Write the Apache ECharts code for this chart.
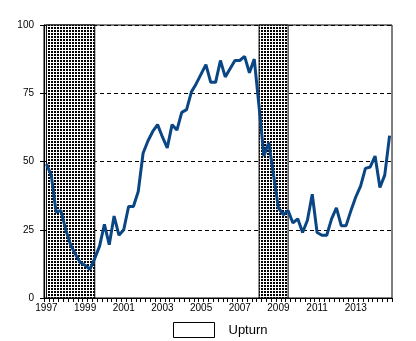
<!DOCTYPE html>
<html>
<head>
<meta charset="utf-8">
<script src="https://cdn.jsdelivr.net/npm/echarts@6/dist/echarts.min.js"></script>
<style>
  html, body { margin: 0; padding: 0; background: #fff; }
  #chart { width: 416px; height: 341px; }
</style>
</head>
<body>
<div id="chart"></div>
<script>
// Quarterly index, 1997 Q1 – 2014 Q4
const years = [1997, 1998, 1999, 2000, 2001, 2002, 2003, 2004, 2005,
               2006, 2007, 2008, 2009, 2010, 2011, 2012, 2013, 2014];
const quarters = ['Q1', 'Q2', 'Q3', 'Q4'];
const indexValues = [
  49, 45, 31.5, 32,
  25, 19.5, 16, 13,
  12, 10.5, 14.5, 19,
  27, 19.5, 30, 23,
  25, 33.5, 33.5, 39,
  53, 57.5, 61, 63.5,
  59, 55, 63.5, 61.5,
  68, 69, 75.5, 78.5,
  82, 85.5, 79, 79,
  87, 81, 84, 87,
  87, 88.5, 82.5, 87.5,
  70, 52, 57, 45,
  33, 30.5, 32, 27.5,
  29, 24, 28.5, 38,
  24, 23, 23, 29,
  33, 26.5, 26.5, 32,
  37, 41, 47.5, 48,
  52, 40.5, 45, 59.5
];
// Shaded (downturn) periods, first and last quarter
const downturns = [['1997Q1', '1999Q3'], ['2008Q1', '2009Q3']];
const yTicks = { min: 0, max: 100, step: 25 };

const categories = [];
years.forEach(y => quarters.forEach(q => categories.push(y + q)));

// dotted fill for the shaded periods
const dots = document.createElement('canvas');
dots.width = 3; dots.height = 3;
const dctx = dots.getContext('2d');
dctx.fillStyle = '#fff'; dctx.fillRect(0, 0, 3, 3);
dctx.fillStyle = '#000'; dctx.fillRect(0, 0, 2, 2);

const font = 'Liberation Sans, Arial, sans-serif';
const chart = echarts.init(document.getElementById('chart'), null, { renderer: 'canvas' });
chart.setOption({
  animation: false,
  backgroundColor: '#fff',
  grid: { left: 44, right: 24, top: 25, bottom: 43, show: true, borderColor: '#000', borderWidth: 1, backgroundColor: 'transparent' },
  legend: {
    left: 173, top: 322, padding: 0,
    itemWidth: 41, itemHeight: 15,
    textStyle: { fontFamily: font, fontSize: 13, color: '#000', padding: [0, 0, 0, 9] },
    data: [{ name: 'Upturn', icon: 'rect', itemStyle: { color: '#fff', borderColor: '#000', borderWidth: 1 } }],
    selectedMode: false
  },
  xAxis: {
    type: 'category',
    data: categories,
    boundaryGap: true,
    axisLine: { lineStyle: { color: '#000', width: 1 } },
    axisTick: { show: true, interval: 0, length: 4, lineStyle: { color: '#000' } },
    axisLabel: {
      interval: (i) => i % 8 === 0,
      formatter: (v) => v.slice(0, 4),
      fontFamily: font, fontSize: 10, color: '#000', margin: 5
    },
    splitLine: { show: false }
  },
  yAxis: {
    type: 'value',
    min: yTicks.min, max: yTicks.max, interval: yTicks.step,
    axisLine: { show: true, lineStyle: { color: '#000', width: 1 } },
    axisTick: { show: true, length: 4, lineStyle: { color: '#000' } },
    axisLabel: { fontFamily: font, fontSize: 10, color: '#000', margin: 10 },
    splitLine: { show: true, lineStyle: { color: '#000', type: [4, 3], width: 1 } }
  },
  series: [
    {
      name: 'Index',
      type: 'line',
      data: indexValues,
      showSymbol: false,
      lineStyle: { color: '#0b4684', width: 3 },
      itemStyle: { color: '#0b4684' },
      z: 3,
      markArea: {
        silent: true,
        itemStyle: { color: { image: dots, repeat: 'repeat' }, borderColor: '#000', borderWidth: 1 },
        data: downturns.map(d => [{ xAxis: d[0] }, { xAxis: d[1] }])
      }
    },
    {
      name: 'Upturn',
      type: 'line',
      data: [],
      itemStyle: { color: '#fff', borderColor: '#000', borderWidth: 1 }
    }
  ]
});
</script>
</body>
</html>
